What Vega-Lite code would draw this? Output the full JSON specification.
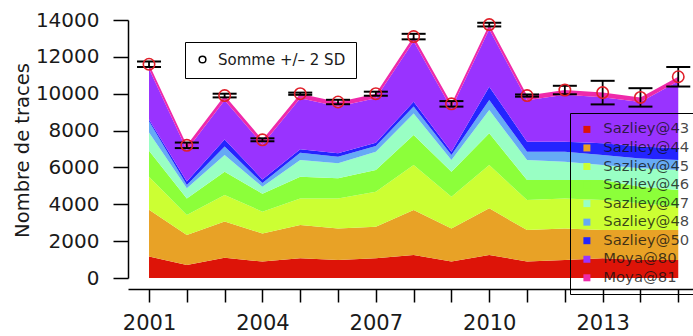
{
  "$schema": "https://vega.github.io/schema/vega-lite/v6.json",
  "width": 565,
  "height": 258,
  "autosize": {"type": "none"},
  "padding": {"left": 128, "top": 20, "right": 0, "bottom": 58},
  "background": "white",
  "config": {
    "view": {"stroke": null},
    "font": "DejaVu Sans",
    "axis": {"grid": false, "domainColor": "black", "tickColor": "black", "labelColor": "#1a1a1a", "titleColor": "#1a1a1a", "labelFont": "DejaVu Sans", "titleFont": "DejaVu Sans", "titleFontWeight": "normal", "labelFlush": false, "labelOverlap": false, "domainWidth": 1.5, "tickWidth": 1.5}
  },
  "datasets": {
    "layers": [
      {"year": 2001, "Sazliey@43": 1160, "Sazliey@44": 2540, "Sazliey@45": 1800, "Sazliey@46": 1400, "Sazliey@47": 1000, "Sazliey@48": 600, "Sazliey@50": 100, "Moya@80": 2750, "Moya@81": 250},
      {"year": 2002, "Sazliey@43": 700, "Sazliey@44": 1630, "Sazliey@45": 1090, "Sazliey@46": 900, "Sazliey@47": 550, "Sazliey@48": 180, "Sazliey@50": 180, "Moya@80": 1720, "Moya@81": 250},
      {"year": 2003, "Sazliey@43": 1100, "Sazliey@44": 1960, "Sazliey@45": 1440, "Sazliey@46": 1270, "Sazliey@47": 900, "Sazliey@48": 460, "Sazliey@50": 390, "Moya@80": 2130, "Moya@81": 250},
      {"year": 2004, "Sazliey@43": 890, "Sazliey@44": 1530, "Sazliey@45": 1180, "Sazliey@46": 970, "Sazliey@47": 380, "Sazliey@48": 200, "Sazliey@50": 200, "Moya@80": 1900, "Moya@81": 250},
      {"year": 2005, "Sazliey@43": 1070, "Sazliey@44": 1810, "Sazliey@45": 1440, "Sazliey@46": 1180, "Sazliey@47": 900, "Sazliey@48": 400, "Sazliey@50": 180, "Moya@80": 2770, "Moya@81": 250},
      {"year": 2006, "Sazliey@43": 980, "Sazliey@44": 1710, "Sazliey@45": 1630, "Sazliey@46": 1090, "Sazliey@47": 810, "Sazliey@48": 360, "Sazliey@50": 190, "Moya@80": 2530, "Moya@81": 250},
      {"year": 2007, "Sazliey@43": 1070, "Sazliey@44": 1710, "Sazliey@45": 1900, "Sazliey@46": 1180, "Sazliey@47": 990, "Sazliey@48": 310, "Sazliey@50": 180, "Moya@80": 2410, "Moya@81": 250},
      {"year": 2008, "Sazliey@43": 1250, "Sazliey@44": 2440, "Sazliey@45": 2440, "Sazliey@46": 1630, "Sazliey@47": 1170, "Sazliey@48": 370, "Sazliey@50": 270, "Moya@80": 3280, "Moya@81": 250},
      {"year": 2009, "Sazliey@43": 890, "Sazliey@44": 1800, "Sazliey@45": 1720, "Sazliey@46": 1360, "Sazliey@47": 630, "Sazliey@48": 270, "Sazliey@50": 180, "Moya@80": 2350, "Moya@81": 250},
      {"year": 2010, "Sazliey@43": 1250, "Sazliey@44": 2530, "Sazliey@45": 2350, "Sazliey@46": 1720, "Sazliey@47": 1270, "Sazliey@48": 540, "Sazliey@50": 720, "Moya@80": 3120, "Moya@81": 250},
      {"year": 2011, "Sazliey@43": 890, "Sazliey@44": 1710, "Sazliey@45": 1630, "Sazliey@46": 1090, "Sazliey@47": 1080, "Sazliey@48": 450, "Sazliey@50": 550, "Moya@80": 2250, "Moya@81": 250},
      {"year": 2012, "Sazliey@43": 980, "Sazliey@44": 1710, "Sazliey@45": 1630, "Sazliey@46": 1000, "Sazliey@47": 990, "Sazliey@48": 540, "Sazliey@50": 550, "Moya@80": 2550, "Moya@81": 250},
      {"year": 2013, "Sazliey@43": 1070, "Sazliey@44": 1530, "Sazliey@45": 1630, "Sazliey@46": 1090, "Sazliey@47": 810, "Sazliey@48": 540, "Sazliey@50": 640, "Moya@80": 2500, "Moya@81": 250},
      {"year": 2014, "Sazliey@43": 980, "Sazliey@44": 1620, "Sazliey@45": 1450, "Sazliey@46": 900, "Sazliey@47": 1000, "Sazliey@48": 540, "Sazliey@50": 640, "Moya@80": 2420, "Moya@81": 250},
      {"year": 2015, "Sazliey@43": 980, "Sazliey@44": 1620, "Sazliey@45": 1270, "Sazliey@46": 900, "Sazliey@47": 1090, "Sazliey@48": 540, "Sazliey@50": 640, "Moya@80": 3630, "Moya@81": 250}
    ],
    "totals": [
      {"year": 2001, "total": 11600, "lo": 11450, "hi": 11750},
      {"year": 2002, "total": 7200, "lo": 7050, "hi": 7350},
      {"year": 2003, "total": 9900, "lo": 9800, "hi": 10000},
      {"year": 2004, "total": 7500, "lo": 7420, "hi": 7580},
      {"year": 2005, "total": 10000, "lo": 9940, "hi": 10060},
      {"year": 2006, "total": 9550, "lo": 9430, "hi": 9670},
      {"year": 2007, "total": 10000, "lo": 9890, "hi": 10110},
      {"year": 2008, "total": 13100, "lo": 12950, "hi": 13250},
      {"year": 2009, "total": 9450, "lo": 9300, "hi": 9600},
      {"year": 2010, "total": 13750, "lo": 13650, "hi": 13850},
      {"year": 2011, "total": 9900, "lo": 9840, "hi": 9960},
      {"year": 2012, "total": 10200, "lo": 9970, "hi": 10430},
      {"year": 2013, "total": 10060, "lo": 9420, "hi": 10700},
      {"year": 2014, "total": 9800, "lo": 9300, "hi": 10300},
      {"year": 2015, "total": 10920, "lo": 10390, "hi": 11450}
    ]
  },
  "layer": [
    {
      "data": {"name": "layers"},
      "transform": [
        {"fold": ["Sazliey@43", "Sazliey@44", "Sazliey@45", "Sazliey@46", "Sazliey@47", "Sazliey@48", "Sazliey@50", "Moya@80", "Moya@81"], "as": ["series", "n"]},
        {"calculate": "indexof(['Sazliey@43','Sazliey@44','Sazliey@45','Sazliey@46','Sazliey@47','Sazliey@48','Sazliey@50','Moya@80','Moya@81'], datum.series)", "as": "k"}
      ],
      "mark": {"type": "area", "interpolate": "linear"},
      "encoding": {
        "x": {"field": "year", "type": "quantitative", "scale": {"domain": [2000.444, 2015.39], "nice": false, "zero": false},
          "axis": {"values": [2001, 2002, 2003, 2004, 2005, 2006, 2007, 2008, 2009, 2010, 2011, 2012, 2013, 2014, 2015], "format": "d", "labelExpr": "(datum.value - 2001) % 3 == 0 ? datum.label : ''", "offset": 11, "tickSize": 13, "labelPadding": 10, "labelFontSize": 21, "labelOverlap": false, "title": null}},
        "y": {"field": "n", "type": "quantitative", "stack": "zero", "scale": {"domain": [0, 14000], "nice": false},
          "axis": {"values": [0, 2000, 4000, 6000, 8000, 10000, 12000, 14000], "format": "d", "tickSize": 15, "labelPadding": 14, "labelFontSize": 20, "labelOverlap": false, "title": "Nombre de traces", "titleFontSize": 19.5, "titleX": -96, "titleY": 130}},
        "color": {"field": "series", "type": "nominal",
          "scale": {"domain": ["Sazliey@43", "Sazliey@44", "Sazliey@45", "Sazliey@46", "Sazliey@47", "Sazliey@48", "Sazliey@50", "Moya@80", "Moya@81"],
                    "range": ["#dd1408", "#e8a226", "#ccff33", "#8cff3a", "#99ffc4", "#66aaf5", "#2424ff", "#9933ff", "#ee2aaa"]},
          "legend": {"orient": "none", "legendX": 442, "legendY": 93, "title": null, "symbolType": "square", "symbolSize": 49, "symbolOffset": 0.5, "labelOffset": 9, "labelFontSize": 14.8, "labelFont": "DejaVu Sans", "labelColor": "#111111", "labelOpacity": 0.78, "rowPadding": 2.55, "padding": 9, "strokeColor": "black", "symbolStrokeWidth": 0}},
        "order": {"field": "k", "type": "quantitative", "sort": "ascending"}
      }
    },
    {
      "data": {"name": "totals"},
      "mark": {"type": "errorbar", "color": "black", "opacity": 1, "ticks": {"size": 24, "thickness": 2, "color": "black", "opacity": 1}, "rule": {"strokeWidth": 1.8, "color": "black", "opacity": 1}},
      "encoding": {
        "x": {"field": "year", "type": "quantitative"},
        "y": {"field": "lo", "type": "quantitative",
          "axis": {"values": [0, 2000, 4000, 6000, 8000, 10000, 12000, 14000], "format": "d", "tickSize": 15, "labelPadding": 14, "labelFontSize": 20, "labelOverlap": false, "title": "Nombre de traces", "titleFontSize": 19.5, "titleX": -96, "titleY": 130}},
        "y2": {"field": "hi"}
      }
    },
    {
      "data": {"name": "totals"},
      "mark": {"type": "point", "filled": false, "stroke": "#e0202a", "strokeWidth": 1.6, "size": 130, "opacity": 1},
      "encoding": {
        "x": {"field": "year", "type": "quantitative"},
        "y": {"field": "total", "type": "quantitative",
          "axis": {"values": [0, 2000, 4000, 6000, 8000, 10000, 12000, 14000], "format": "d", "tickSize": 15, "labelPadding": 14, "labelFontSize": 20, "labelOverlap": false, "title": "Nombre de traces", "titleFontSize": 19.5, "titleX": -96, "titleY": 130}},
        "shape": {"datum": "Somme +/– 2 SD", "scale": {"range": ["circle"]},
          "legend": {"orient": "none", "legendX": 57, "legendY": 22, "title": null, "symbolSize": 45, "symbolStrokeColor": "black", "symbolStrokeWidth": 1.5, "symbolFillColor": "transparent", "symbolOffset": 0, "labelOffset": 8, "labelFontSize": 15, "labelFont": "DejaVu Sans", "labelColor": "#1a1a1a", "padding": 10, "strokeColor": "black"}}
      }
    }
  ]
}
